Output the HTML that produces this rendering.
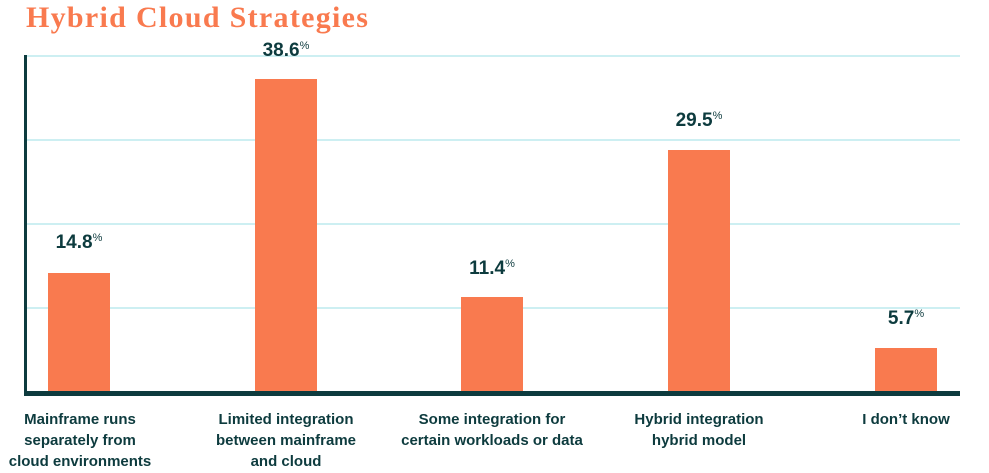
<!DOCTYPE html>
<html><head><meta charset="utf-8"><style>
body{margin:0;width:989px;height:473px;background:#fff;position:relative;overflow:hidden;font-family:"Liberation Sans",sans-serif;}
.t{position:absolute;left:26px;top:1px;font-family:"Liberation Serif",serif;font-weight:bold;font-size:30px;line-height:34px;color:#F97A4F;letter-spacing:1.3px;}
.g{position:absolute;left:26px;width:934px;height:2px;background:#CDEFF2;}
.b{position:absolute;width:62px;background:#F97A4F;}
.v{position:absolute;width:120px;text-align:center;font-weight:bold;font-size:19px;color:#0D3B3E;}
.v sup{font-size:11px;font-weight:normal;vertical-align:7px;}
.l{position:absolute;width:200px;text-align:center;font-weight:bold;font-size:15px;line-height:21px;color:#0D3B3E;}
</style></head><body>
<div class="t">Hybrid Cloud Strategies</div>
<div class="g" style="top:55px"></div>
<div class="g" style="top:139px"></div>
<div class="g" style="top:223px"></div>
<div class="g" style="top:307px"></div>
<div style="position:absolute;left:24px;top:55px;width:3px;height:341px;background:#0D3B3E"></div>
<div class="b" style="left:48px;top:273px;height:118px"></div>
<div class="b" style="left:255px;top:79px;height:312px"></div>
<div class="b" style="left:461px;top:297px;height:94px"></div>
<div class="b" style="left:668px;top:150px;height:241px"></div>
<div class="b" style="left:875px;top:348px;height:43px"></div>
<div style="position:absolute;left:24px;top:391px;width:936px;height:5px;background:#0D3B3E"></div>
<div class="v" style="left:19px;top:232px">14.8<sup>%</sup></div>
<div class="v" style="left:226px;top:40px">38.6<sup>%</sup></div>
<div class="v" style="left:432px;top:258px">11.4<sup>%</sup></div>
<div class="v" style="left:639px;top:110px">29.5<sup>%</sup></div>
<div class="v" style="left:846px;top:308px">5.7<sup>%</sup></div>
<div class="l" style="left:-20px;top:409px">Mainframe runs<br>separately from<br>cloud environments</div>
<div class="l" style="left:186px;top:409px">Limited integration<br>between mainframe<br>and cloud</div>
<div class="l" style="left:392px;top:409px">Some integration for<br>certain workloads or data</div>
<div class="l" style="left:599px;top:409px">Hybrid integration<br>hybrid model</div>
<div class="l" style="left:806px;top:409px">I don’t know</div>
</body></html>
